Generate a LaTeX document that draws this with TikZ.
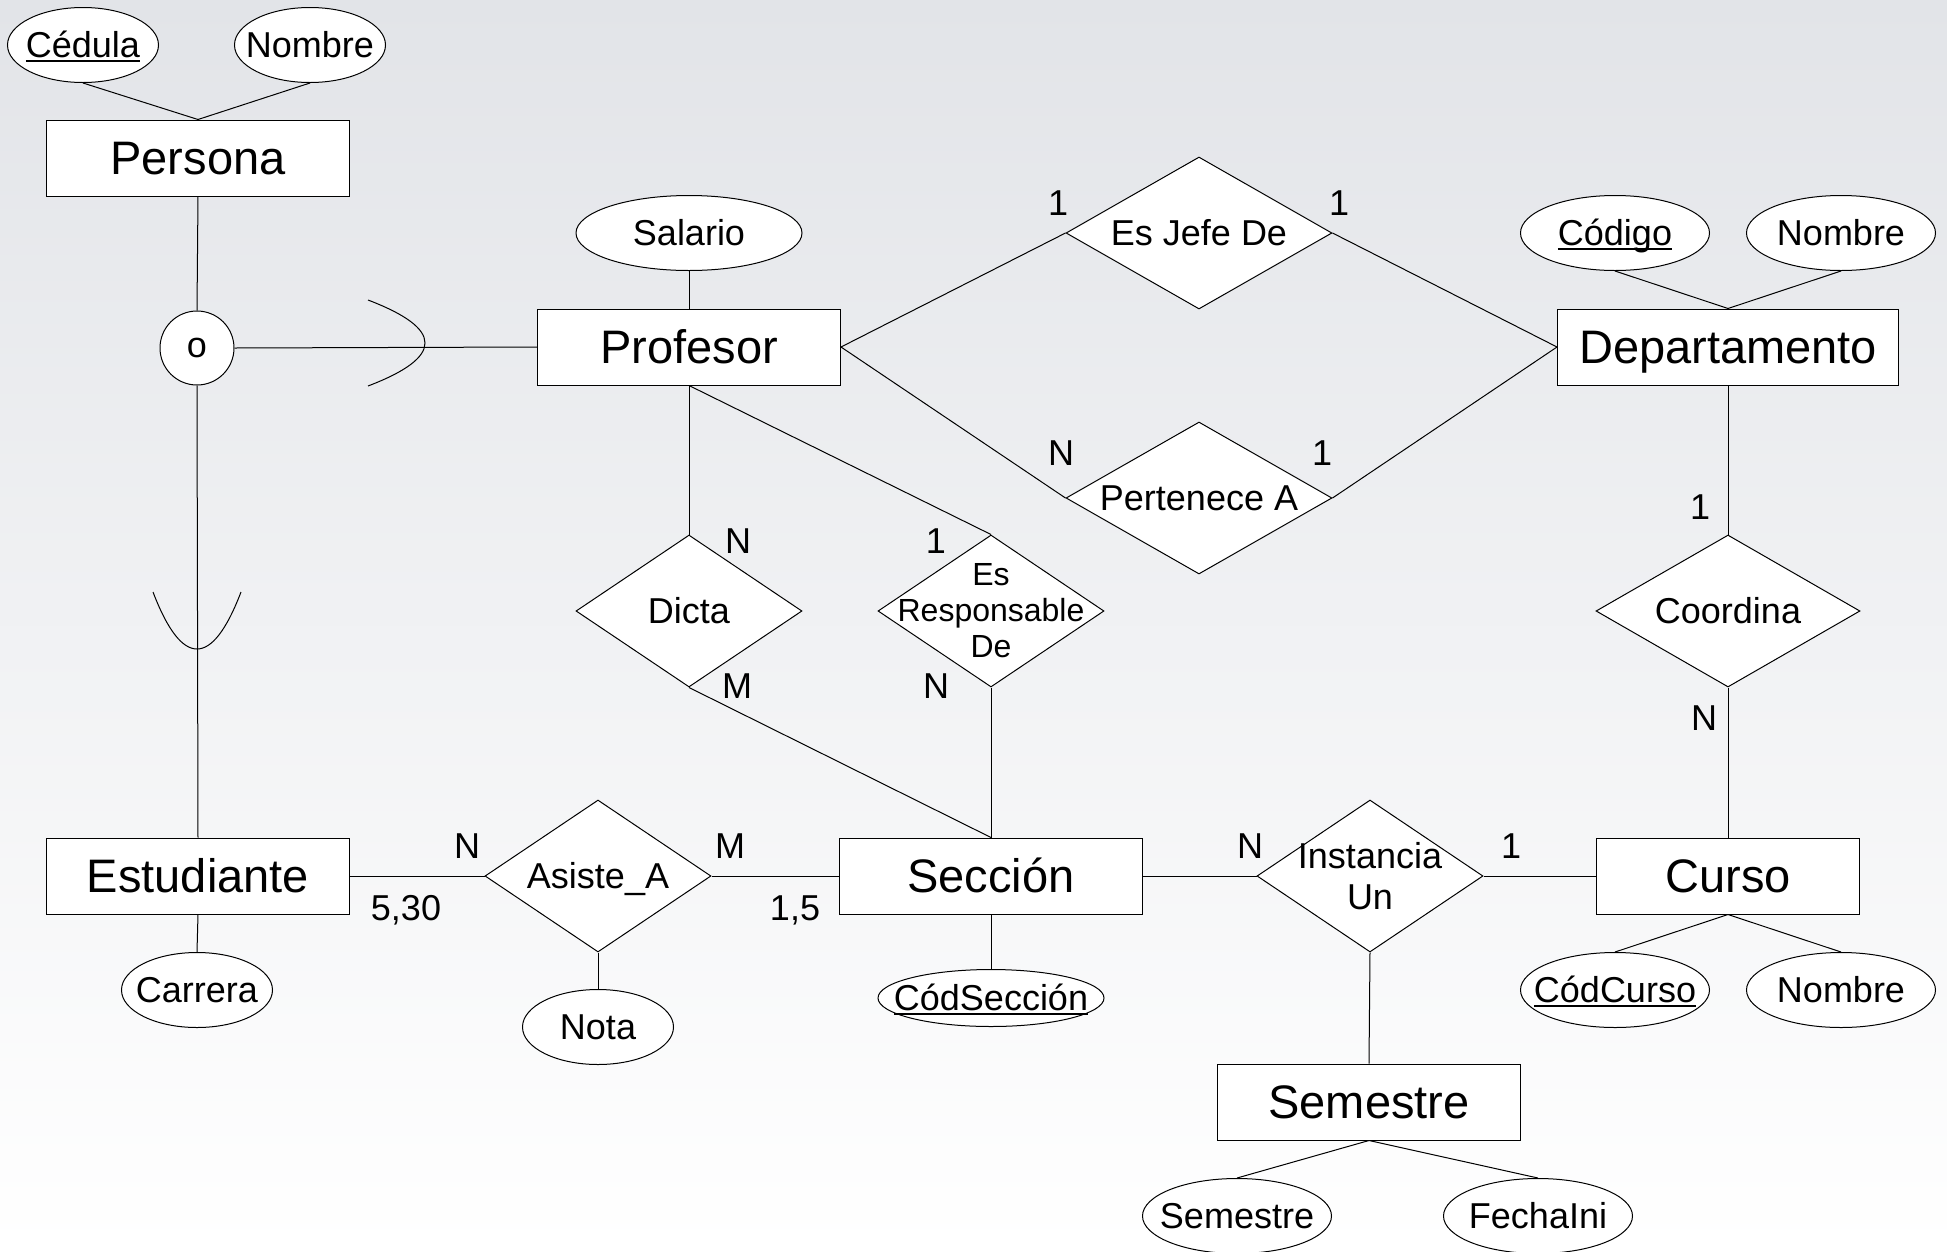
\documentclass[tikz,border=0pt]{standalone}
\usepackage{fontspec}
\setmainfont{Liberation Sans}
\usetikzlibrary{shapes.geometric}
\definecolor{bgtop}{RGB}{226,228,232}
\newcommand{\keyul}[1]{\setbox0\hbox{#1}\rlap{\rule[-0.11em]{\wd0}{0.05em}}\box0}
\begin{document}
\begin{tikzpicture}[x=1pt,y=-1pt,
  conn/.style={line width=1pt},
  ent/.style={draw, fill=white, line width=1pt, minimum width=303pt, minimum height=76pt, inner sep=0pt, font=\fontsize{47}{52}\selectfont, text height=37.6pt, text depth=3.9pt},
  attr/.style={draw, fill=white, ellipse, line width=1pt, minimum width=151pt, minimum height=75pt, inner sep=0pt},
  rel/.style={draw, fill=white, diamond, line width=1pt, minimum width=226pt, minimum height=152pt, inner sep=0pt},
  txt/.style={font=\fontsize{36}{41}\selectfont, inner sep=0pt, align=center, text height=28.8pt, text depth=3pt},
  mtxt/.style={font=\fontsize{36}{41}\selectfont, inner sep=0pt, align=center},
  smalltxt/.style={font=\fontsize{32}{36}\selectfont, inner sep=0pt, align=center},
  card/.style={font=\fontsize{36}{41}\selectfont, inner sep=0pt, text height=28.8pt, text depth=3pt}
]
\useasboundingbox (0,0) rectangle (1947,1251);
\shade[top color=bgtop, bottom color=white] (0,0) rectangle (1947,1251);

% entities
\node[ent] (persona) at (198,158) {Persona};
\node[ent] (profesor) at (689,347) {Profesor};
\node[ent, minimum width=341pt] (depto) at (1728,347) {Departamento};
\node[ent] (estudiante) at (198,876) {Estudiante};
\node[ent] (seccion) at (991,876) {Sección};
\node[ent, minimum width=263pt] (curso) at (1728,876) {Curso};
\node[ent] (semestre) at (1369,1102) {Semestre};

% disjointness circle
\node[draw, fill=white, circle, line width=1pt, minimum size=74pt, inner sep=0pt, font=\fontsize{36}{41}\selectfont] (o) at (197,348) {o};

% attributes
\node[attr, label={[txt]center:\keyul{Cédula}}] (cedula) at (83,45) {};
\node[attr, label={[txt]center:Nombre}] (pnombre) at (310,45) {};
\node[attr, minimum width=226pt, label={[txt]center:Salario}] (salario) at (689,233) {};
\node[attr, minimum width=189pt, label={[txt]center:\keyul{Código}}] (codigo) at (1615,233) {};
\node[attr, minimum width=189pt, label={[txt]center:Nombre}] (dnombre) at (1841,233) {};
\node[attr, label={[txt]center:Carrera}] (carrera) at (197,990) {};
\node[attr, label={[txt]center:Nota}] (nota) at (598,1027) {};
\node[attr, minimum width=226pt, minimum height=57pt, label={[txt]center:\keyul{CódSección}}] (codsec) at (991,998) {};
\node[attr, minimum width=189pt, label={[txt]center:\keyul{CódCurso}}] (codcurso) at (1615,990) {};
\node[attr, minimum width=189pt, label={[txt]center:Nombre}] (cnombre) at (1841,990) {};
\node[attr, minimum width=189pt, label={[txt]center:Semestre}] (semnom) at (1237,1216) {};
\node[attr, minimum width=189pt, label={[txt]center:FechaIni}] (fechaini) at (1538,1216) {};

% relationships
\node[rel, minimum width=266pt, label={[txt]center:Es Jefe De}] (jefe) at (1199,233) {};
\node[rel, minimum width=266pt, label={[txt]center:Pertenece A}] (pertenece) at (1199,498) {};
\node[rel, label={[txt]center:Dicta}] (dicta) at (689,611) {};
\node[rel, label={[smalltxt]center:Es\\Responsable\\De}] (resp) at (991,611) {};
\node[rel, minimum width=264pt, label={[txt]center:Coordina}] (coordina) at (1728,611) {};
\node[rel, label={[txt]center:Asiste\_A}] (asiste) at (598,876) {};
\node[rel, label={[mtxt]center:Instancia\\Un}] (instancia) at (1370,876) {};

% connectors
\draw[conn] (persona.north) -- (cedula.south);
\draw[conn] (persona.north) -- (pnombre.south);
\draw[conn] (persona.south) -- (o.north);
\draw[conn] (o.east) -- (profesor.west);
\draw[conn] (o.south) -- (estudiante.north);
\draw[conn] (salario.south) -- (profesor.north);
\draw[conn] (profesor.east) -- (jefe.west);
\draw[conn] (jefe.east) -- (depto.west);
\draw[conn] (profesor.east) -- (pertenece.west);
\draw[conn] (pertenece.east) -- (depto.west);
\draw[conn] (depto.north) -- (codigo.south);
\draw[conn] (depto.north) -- (dnombre.south);
\draw[conn] (depto.south) -- (coordina.north);
\draw[conn] (coordina.south) -- (curso.north);
\draw[conn] (profesor.south) -- (dicta.north);
\draw[conn] (dicta.south) -- (seccion.north);
\draw[conn] (profesor.south) -- (resp.north);
\draw[conn] (resp.south) -- (seccion.north);
\draw[conn] (estudiante.east) -- (asiste.west);
\draw[conn] (asiste.east) -- (seccion.west);
\draw[conn] (asiste.south) -- (nota.north);
\draw[conn] (estudiante.south) -- (carrera.north);
\draw[conn] (seccion.south) -- (codsec.north);
\draw[conn] (seccion.east) -- (instancia.west);
\draw[conn] (instancia.east) -- (curso.west);
\draw[conn] (instancia.south) -- (semestre.north);
\draw[conn] (curso.south) -- (codcurso.north);
\draw[conn] (curso.south) -- (cnombre.north);
\draw[conn] (semestre.south) -- (semnom.north);
\draw[conn] (semestre.south) -- (fechaini.north);

% subset arcs
\draw[conn] (368,300) .. controls (444,329) and (444,357) .. (368,386);
\draw[conn] (153,592) .. controls (182,668) and (212,668) .. (241,592);

% cardinalities
\node[card] (c1) at (1058,203) {1};
\node[card] (c2) at (1339,203) {1};
\node[card] (c3) at (1061,453) {N};
\node[card] (c4) at (1322,453) {1};
\node[card] (c5) at (738,541) {N};
\node[card] (c6) at (737,686) {M};
\node[card] (c7) at (936,541) {1};
\node[card] (c8) at (936,686) {N};
\node[card] (c9) at (1700,507) {1};
\node[card] (c10) at (1704,718) {N};
\node[card] (c11) at (467,846) {N};
\node[card] (c12) at (730,846) {M};
\node[card] (c13) at (406,908) {5,30};
\node[card] (c14) at (795,908) {1,5};
\node[card] (c15) at (1250,846) {N};
\node[card] (c16) at (1511,846) {1};
\end{tikzpicture}
\end{document}
